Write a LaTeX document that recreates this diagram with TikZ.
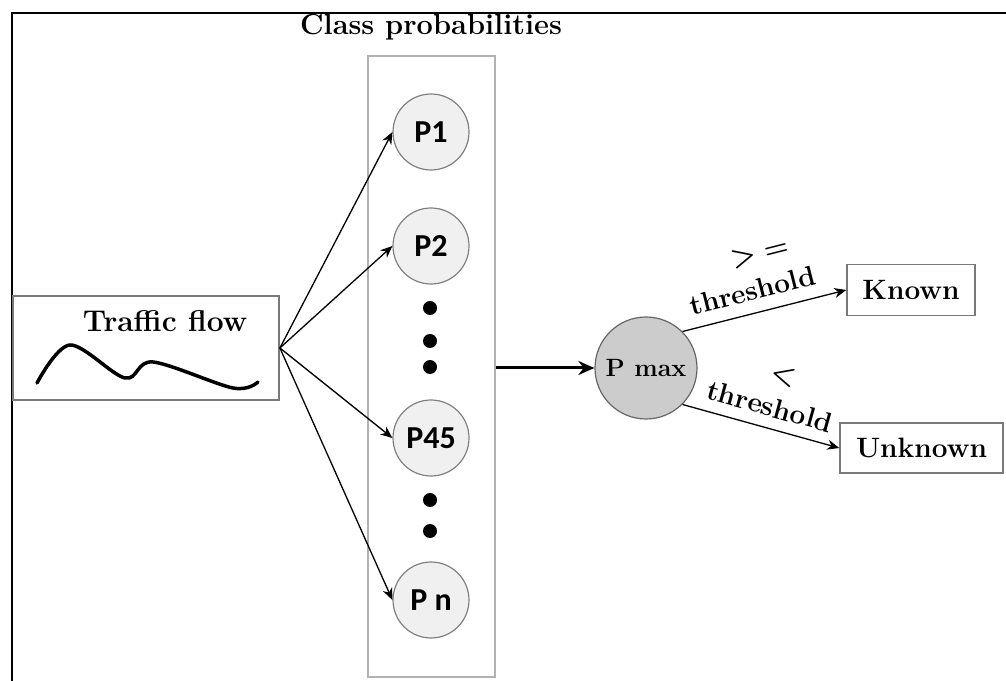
\documentclass[tikz,border=0pt]{standalone}
\usepackage{fontspec}
\newfontfamily\calibri{Carlito}
\usetikzlibrary{
	arrows.meta,
	positioning
}

\begin{document}
\begin{tikzpicture}[x=1pt, y=1pt,
				framebox/.style={
					rectangle, draw=gray!95!black, line width=1.8pt,
					inner sep=0pt
				},
				outbox/.style={
					framebox, line width=1.5pt,
					font=\bfseries\fontsize{28}{30}\selectfont
				},
				probnode/.style={
					circle, draw=gray, fill=gray!12, line width=1.2pt,
					minimum size=76pt, inner sep=0pt,
					font=\calibri\bfseries\fontsize{32}{34}\selectfont
				},
				dotnode/.style={
					circle, fill=black, minimum size=14pt, inner sep=0pt
				},
				maxnode/.style={
					circle, draw=gray!80!black, fill=gray!40, line width=1.2pt,
					minimum size=102pt, inner sep=0pt,
					font=\bfseries\fontsize{25}{27}\selectfont
				},
				labeltext/.style={
					font=\bfseries\fontsize{28}{30}\selectfont, inner sep=0pt
				},
				arrow/.style={-{Stealth[length=12pt, width=10pt]}, line width=1.3pt, black},
				bigarrow/.style={-{Stealth[length=16pt, width=14pt]}, line width=3pt, black}
				]
				
				\useasboundingbox (0,0) rectangle (1006,680);
				
				% outer frame
				\draw[line width=2.5pt] (12,-5) -- (12,667) -- (1011,667);
				
				% Traffic flow
				\node[framebox, minimum width=266pt, minimum height=104pt] (flow) at (146,332) {};
				\node[font=\bfseries\fontsize{30}{32}\selectfont] (flowtext) at (165,359) {Traffic flow};
				\draw[line width=3.5pt, line cap=round] plot[smooth, tension=0.55] coordinates {
					(37,297) (70,335) (125,302) (153,318) (233,292) (258,298)};
				
				% class probabilities
				\node[rectangle, draw=gray!60, line width=1.2pt, minimum width=127pt, minimum height=621pt] (column) at (431.5,313.5) {};
				\node[font=\bfseries\fontsize{29}{31}\selectfont] (title) at (431,653) {Class probabilities};
				
				% probability nodes
				\node[probnode] (p1) at (431,548) {P1};
				\node[probnode] (p2) at (431,434) {P2};
				\node[probnode] (p45) at (431,242) {P45};
				\node[probnode] (pn) at (431,80) {P n};
				
				% dots
				\node[dotnode] (d1) at (430,372) {};
				\node[dotnode] (d2) at (430,339) {};
				\node[dotnode] (d3) at (430,313) {};
				\node[dotnode] (d4) at (430,180) {};
				\node[dotnode] (d5) at (430,149) {};
				
				% P max
				\node[maxnode] (pmax) at (646,312) {P max};
				
				% outputs
				\node[outbox, minimum width=128pt, minimum height=51pt] (known) at (911,390) {Known};
				\node[outbox, minimum width=163pt, minimum height=50pt] (unknown) at (921.5,232) {Unknown};
				
				% arrows
				\draw[arrow] (flow.east) -- (p1.west);
				\draw[arrow] (flow.east) -- (p2.west);
				\draw[arrow] (flow.east) -- (p45.west);
				\draw[arrow] (flow.east) -- (pn.west);
				\draw[bigarrow] (column.east |- pmax.west) -- (pmax.west);
				\draw[arrow] (pmax.north east) -- node[labeltext, pos=0.46, above=12pt, sloped] (thr1) {threshold}
					node[labeltext, pos=0.56, above=46pt, sloped] (geq) {>\,\,=} (known.west);
				\draw[arrow] (pmax.south east) -- node[labeltext, pos=0.52, above=11pt, sloped] (thr2) {threshold}
					node[labeltext, pos=0.55, above=44pt, sloped] (less) {<} (unknown.west);
			\end{tikzpicture}
\end{document}
